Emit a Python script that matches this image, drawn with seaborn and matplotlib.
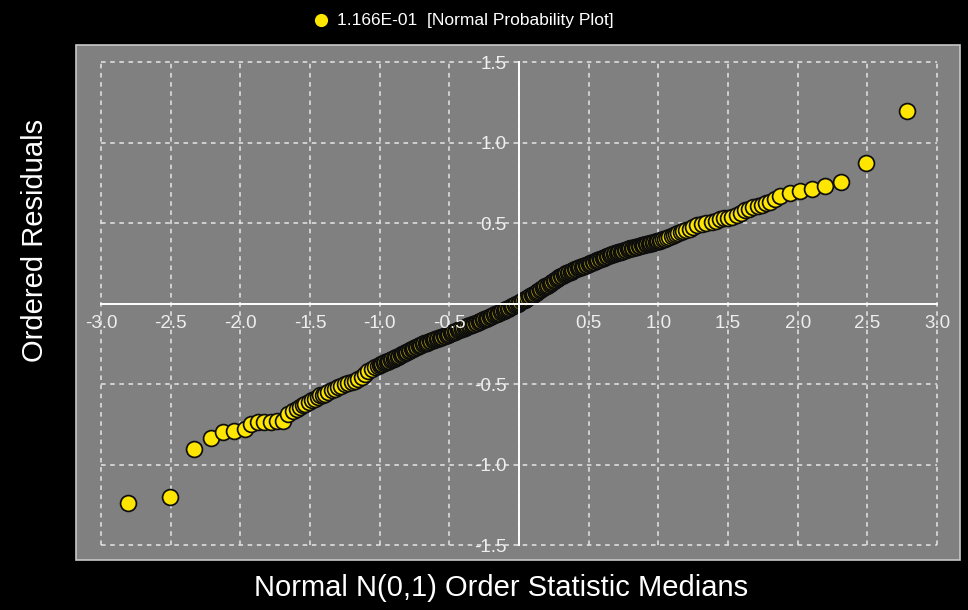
import numpy as np
import pandas as pd
import matplotlib
matplotlib.use("Agg")
import matplotlib.pyplot as plt
import seaborn as sns

# ---------------- data ----------------
x_left = [-2.804, -2.505, -2.333, -2.213, -2.122, -2.043, -1.967, -1.926, -1.876, -1.828,
          -1.780, -1.739, -1.692, -1.656, -1.620, -1.590, -1.572, -1.550, -1.536, -1.510,
          -1.488, -1.465, -1.445, -1.428, -1.410, -1.392, -1.370, -1.344, -1.320, -1.297,
          -1.275, -1.249, -1.225, -1.201, -1.180, -1.153, -1.130, -1.105, -1.080, -1.057,
          -1.035, -1.015]
y_left = [-1.240, -1.203, -0.905, -0.834, -0.795, -0.789, -0.778, -0.747, -0.733, -0.733,
          -0.733, -0.727, -0.727, -0.685, -0.665, -0.655, -0.644, -0.632, -0.623, -0.612,
          -0.602, -0.590, -0.580, -0.571, -0.566, -0.561, -0.550, -0.540, -0.530, -0.520,
          -0.510, -0.499, -0.494, -0.489, -0.480, -0.468, -0.455, -0.437, -0.420, -0.406,
          -0.395, -0.387]

x_mid = [-1.00, -0.99, -0.98, -0.97, -0.96, -0.95, -0.94, -0.93, -0.92, -0.91,
         -0.90, -0.89, -0.88, -0.87, -0.86, -0.85, -0.84, -0.83, -0.82, -0.81,
         -0.80, -0.79, -0.78, -0.77, -0.76, -0.75, -0.74, -0.73, -0.72, -0.71,
         -0.70, -0.69, -0.68, -0.67, -0.66, -0.65, -0.64, -0.63, -0.62, -0.61,
         -0.60, -0.59, -0.58, -0.57, -0.56, -0.55, -0.54, -0.53, -0.52, -0.51,
         -0.50, -0.49, -0.48, -0.47, -0.46, -0.45, -0.44, -0.43, -0.42, -0.41,
         -0.40, -0.39, -0.38, -0.37, -0.36, -0.35, -0.34, -0.33, -0.32, -0.31,
         -0.30, -0.29, -0.28, -0.27, -0.26, -0.25, -0.24, -0.23, -0.22, -0.21,
         -0.20, -0.19, -0.18, -0.17, -0.16, -0.15, -0.14, -0.13, -0.12, -0.11,
         -0.10, -0.09, -0.08, -0.07, -0.06, -0.05, -0.04, -0.03, -0.02, -0.01,
         0.00, 0.01, 0.02, 0.03, 0.04, 0.05, 0.06, 0.07, 0.08, 0.09,
         0.10, 0.11, 0.12, 0.13, 0.14, 0.15, 0.16, 0.17, 0.18, 0.19,
         0.20, 0.21, 0.22, 0.23, 0.24, 0.25, 0.26, 0.27, 0.28, 0.29,
         0.30, 0.31, 0.32, 0.33, 0.34, 0.35, 0.36, 0.37, 0.38, 0.39,
         0.40, 0.41, 0.42, 0.43, 0.44, 0.45, 0.46, 0.47, 0.48, 0.49,
         0.50, 0.51, 0.52, 0.53, 0.54, 0.55, 0.56, 0.57, 0.58, 0.59,
         0.60, 0.61, 0.62, 0.63, 0.64, 0.65, 0.66, 0.67, 0.68, 0.69,
         0.70, 0.71, 0.72, 0.73, 0.74, 0.75, 0.76, 0.77, 0.78, 0.79,
         0.80, 0.81, 0.82, 0.83, 0.84, 0.85, 0.86, 0.87, 0.88, 0.89,
         0.90, 0.91, 0.92, 0.93, 0.94, 0.95, 0.96, 0.97, 0.98, 0.99, 1.00]
y_mid = [-0.380, -0.376, -0.373, -0.369, -0.365, -0.362, -0.358, -0.354, -0.350, -0.347,
         -0.343, -0.339, -0.334, -0.330, -0.325, -0.321, -0.316, -0.312, -0.307, -0.303,
         -0.298, -0.294, -0.289, -0.285, -0.281, -0.276, -0.272, -0.268, -0.264, -0.259,
         -0.255, -0.252, -0.248, -0.245, -0.242, -0.239, -0.235, -0.232, -0.229, -0.225,
         -0.222, -0.219, -0.216, -0.212, -0.209, -0.206, -0.203, -0.200, -0.196, -0.193,
         -0.190, -0.186, -0.182, -0.179, -0.175, -0.171, -0.167, -0.163, -0.160, -0.156,
         -0.152, -0.149, -0.145, -0.142, -0.138, -0.135, -0.132, -0.128, -0.125, -0.121,
         -0.118, -0.114, -0.110, -0.107, -0.103, -0.099, -0.095, -0.091, -0.088, -0.084,
         -0.080, -0.076, -0.072, -0.068, -0.064, -0.060, -0.056, -0.052, -0.048, -0.044,
         -0.040, -0.036, -0.031, -0.027, -0.022, -0.018, -0.013, -0.009, -0.004, 0.000,
         0.005, 0.010, 0.015, 0.020, 0.025, 0.030, 0.035, 0.040, 0.045, 0.050,
         0.055, 0.061, 0.066, 0.072, 0.078, 0.084, 0.089, 0.095, 0.101, 0.106,
         0.112, 0.118, 0.124, 0.129, 0.135, 0.141, 0.147, 0.153, 0.158, 0.164,
         0.170, 0.174, 0.178, 0.183, 0.187, 0.191, 0.195, 0.199, 0.204, 0.208,
         0.212, 0.215, 0.219, 0.222, 0.225, 0.229, 0.232, 0.235, 0.238, 0.242,
         0.245, 0.249, 0.253, 0.256, 0.260, 0.264, 0.268, 0.272, 0.275, 0.279,
         0.283, 0.286, 0.289, 0.293, 0.296, 0.299, 0.302, 0.305, 0.309, 0.312,
         0.315, 0.318, 0.321, 0.323, 0.326, 0.329, 0.332, 0.335, 0.337, 0.340,
         0.343, 0.345, 0.347, 0.350, 0.352, 0.354, 0.356, 0.358, 0.361, 0.363,
         0.365, 0.367, 0.370, 0.372, 0.374, 0.377, 0.379, 0.381, 0.383, 0.386, 0.388]

x_right = [1.010, 1.020, 1.035, 1.050, 1.065, 1.080, 1.095, 1.110, 1.125, 1.140,
           1.160, 1.180, 1.200, 1.225, 1.251, 1.280, 1.311, 1.345, 1.383, 1.413,
           1.443, 1.472, 1.502, 1.532, 1.563, 1.592, 1.622, 1.652, 1.682, 1.712,
           1.742, 1.771, 1.801, 1.836, 1.873, 1.945, 2.017, 2.101, 2.196, 2.311,
           2.488, 2.787]
y_right = [0.391, 0.394, 0.399, 0.404, 0.409, 0.414, 0.420, 0.425, 0.430, 0.436,
           0.443, 0.450, 0.457, 0.466, 0.474, 0.485, 0.495, 0.500, 0.505, 0.515,
           0.526, 0.529, 0.532, 0.540, 0.547, 0.562, 0.578, 0.590, 0.602, 0.608,
           0.615, 0.622, 0.629, 0.648, 0.665, 0.688, 0.698, 0.712, 0.729, 0.753,
           0.874, 1.194]

x_ticks = [-3.0, -2.5, -2.0, -1.5, -1.0, -0.5, 0.0, 0.5, 1.0, 1.5, 2.0, 2.5, 3.0]
x_tick_labels = ["-3.0", "-2.5", "-2.0", "-1.5", "-1.0", "-0.5", "", "0.5", "1.0", "1.5", "2.0", "2.5", "3.0"]
y_ticks = [-1.5, -1.0, -0.5, 0.0, 0.5, 1.0, 1.5]
y_tick_labels = ["-1.5", "-1.0", "-0.5", "", "0.5", "1.0", "1.5"]

legend_label = "1.166E-01  [Normal Probability Plot]"
x_title = "Normal N(0,1) Order Statistic Medians"
y_title = "Ordered Residuals"

df = pd.DataFrame({
    "median": x_left + x_mid + x_right,
    "residual": y_left + y_mid + y_right,
})

# ---------------- styling ----------------
plt.rcParams["font.family"] = ["Liberation Sans", "DejaVu Sans"]

W, H = 968, 610
fig = plt.figure(figsize=(W / 100, H / 100), dpi=100, facecolor="black")
ax = fig.add_axes([76 / W, 1 - 560 / H, (960 - 76) / W, (560 - 45) / H])
ax.set_facecolor("#808080")
ax.patch.set_edgecolor("#c8c8c8")
ax.patch.set_linewidth(1.2)

# dashed grid, limited to the tick range
grid_kw = dict(colors="#e6e6e6", linewidth=1.1, linestyles=(0, (3, 3)), zorder=0.5)
ax.hlines(y_ticks, x_ticks[0], x_ticks[-1], **grid_kw)
ax.vlines(x_ticks, y_ticks[0], y_ticks[-1], **grid_kw)

sns.scatterplot(data=df, x="median", y="residual", ax=ax, s=130,
                color="#ffe600", edgecolor="#0d0d0d", linewidth=1.25,
                label=legend_label, zorder=1)

ax.set_xlim(-3.179, 3.165)
ax.set_ylim(-1.593, 1.606)

for side in ("top", "right"):
    ax.spines[side].set_visible(False)
for side in ("left", "bottom"):
    ax.spines[side].set_position(("data", 0))
    ax.spines[side].set_color("white")
    ax.spines[side].set_linewidth(1.4)
ax.spines["bottom"].set_bounds(x_ticks[0], x_ticks[-1])
ax.spines["left"].set_bounds(y_ticks[0], y_ticks[-1])

ax.set_xticks(x_ticks)
ax.set_xticklabels(x_tick_labels)
ax.set_yticks(y_ticks)
ax.set_yticklabels(y_tick_labels)
ax.tick_params(axis="both", length=0, labelsize=13.5, labelcolor="#eeeeee")
ax.tick_params(axis="x", pad=8)
ax.tick_params(axis="y", pad=9)

ax.set_xlabel(x_title, fontsize=21, color="white")
ax.set_ylabel(y_title, fontsize=21, color="white")
ax.xaxis.label.set_va("center")
ax.yaxis.label.set_va("center")
ax.xaxis.set_label_coords((501 - 76) / 884, (560 - 588) / 515)
ax.yaxis.set_label_coords((35 - 76) / 884, (560 - 240) / 515)

leg = ax.legend(loc="center", bbox_to_anchor=(463 / W, 1 - 20 / H),
                bbox_transform=fig.transFigure, frameon=False,
                labelcolor="white", fontsize=12.5, markerscale=0.72,
                handletextpad=0.4, borderpad=0, handlelength=1.0)
for h in leg.legend_handles:
    h.set_edgecolor("#ffe600")

fig.savefig("out.png", dpi=100, facecolor="black")
